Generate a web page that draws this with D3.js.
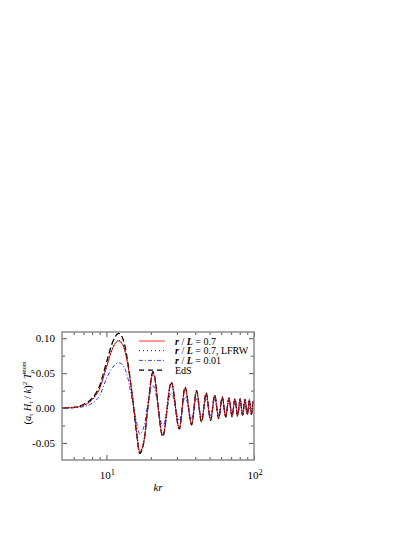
<!DOCTYPE html>
<html>
<head>
<meta charset="utf-8">
<script src="https://cdn.jsdelivr.net/npm/d3@7"></script>
<style>
  body { margin: 0; background: #fff; }
  svg { display: block; }
  text { font-family: "Liberation Serif", "DejaVu Serif", serif; fill: #000; }
</style>
</head>
<body>
<script>
// kr sample points (peaks, troughs and a few along the first rise)
const kr = [5, 6, 7, 8, 9, 10, 11, 12.1, 13, 14, 15, 16, 16.8, 18, 19, 20.7,
  24.1, 27.5, 31.2, 34.1, 37.8, 40.8, 44.1, 47.4, 50.8, 54.2, 57.6, 61.0, 64.3,
  67.7, 71.0, 74.3, 77.4, 80.6, 83.7, 86.9, 90.0, 93.1, 96.1, 99.2, 100]

// r/L = 0.7
const redVals = [0, 0.0008, 0.004, 0.012, 0.028, 0.058, 0.085, 0.096, 0.089, 0.060, 0.017, -0.033, -0.0625, -0.046, -0.003, 0.050,
  -0.039, 0.036, -0.029, 0.029, -0.023, 0.024, -0.019, 0.021, -0.017, 0.018, -0.0145, 0.0155, -0.0125,
  0.014, -0.012, 0.013, -0.011, 0.0125, -0.010, 0.012, -0.009, 0.011, -0.0088, 0.0105, 0.009]

// r/L = 0.7, LFRW
const lfrwVals = [0, 0.0008, 0.004, 0.012, 0.029, 0.059, 0.086, 0.097, 0.090, 0.061, 0.017, -0.034, -0.063, -0.046, -0.003, 0.050,
  -0.039, 0.036, -0.029, 0.029, -0.023, 0.024, -0.019, 0.021, -0.017, 0.018, -0.0145, 0.0155, -0.0125,
  0.014, -0.012, 0.013, -0.011, 0.0125, -0.010, 0.012, -0.009, 0.011, -0.0088, 0.0105, 0.009]

// r/L = 0.01
const blueVals = [0, 0.0005, 0.002, 0.007, 0.018, 0.042, 0.058, 0.065, 0.061, 0.042, 0.010, -0.020, -0.037, -0.026, 0.004, 0.032,
  -0.026, 0.022, -0.018, 0.016, -0.0145, 0.013, -0.012, 0.0125, -0.011, 0.012, -0.010, 0.0125, -0.0095,
  0.012, -0.009, 0.0115, -0.0085, 0.011, -0.008, 0.011, -0.0078, 0.0105, -0.0075, 0.010, 0.009]

// EdS
const edsVals = [0, 0.001, 0.005, 0.014, 0.032, 0.065, 0.094, 0.107, 0.098, 0.064, 0.016, -0.036, -0.065, -0.047, -0.002, 0.052,
  -0.041, 0.037, -0.030, 0.030, -0.024, 0.025, -0.020, 0.022, -0.0175, 0.0185, -0.015, 0.016, -0.013,
  0.0145, -0.0125, 0.0135, -0.0115, 0.013, -0.0105, 0.0125, -0.0095, 0.0115, -0.009, 0.011, 0.0095]

const legendLabels = ["0.7", "0.7, LFRW", "0.01", "EdS"]
const yMajor = [-0.05, 0, 0.05, 0.10]
const yMinor = [-0.025, 0.025, 0.075]
const xMajor = [10, 100]
const xMinor = [6, 7, 8, 9, 20, 30, 40, 50, 60, 70, 80, 90]

const W = 415, H = 537
const mLeft = 62, mRight = 254, mTop = 332, mBottom = 460

const svg = d3.select("body").append("svg").attr("width", W).attr("height", H)

const x = d3.scaleLog().domain([5, 100]).range([mLeft, mRight])
const y = d3.scaleLinear().domain([-0.0745, 0.109]).range([mBottom, mTop])

// clip
svg.append("clipPath").attr("id", "clip").append("rect")
  .attr("x", mLeft).attr("y", mTop).attr("width", mRight - mLeft).attr("height", mBottom - mTop)

const series = [
  { vals: edsVals, color: "#000", width: 1.3, dash: "6,3" },
  { vals: blueVals, color: "#2233ff", width: 1, dash: "4,2,1,2" },
  { vals: redVals, color: "#ff1a1a", width: 1, dash: null },
  { vals: lfrwVals, color: "#000", width: 1, dash: "1,2" }
]

const line = d3.line()
  .x(d => x(d[0]))
  .y(d => y(d[1]))
  .curve(d3.curveMonotoneX)

const g = svg.append("g").attr("clip-path", "url(#clip)")
series.forEach(s => {
  g.append("path")
    .datum(kr.map((k, i) => [k, s.vals[i]]))
    .attr("d", line)
    .attr("fill", "none")
    .attr("stroke", s.color)
    .attr("stroke-width", s.width)
    .attr("stroke-dasharray", s.dash)
})

// axes
function tickAxis(axis, tr, vals, size) {
  const a = svg.append("g").attr("transform", tr)
    .call(axis.tickValues(vals).tickSize(size).tickFormat(""))
  a.select(".domain").remove()
  a.selectAll("line").attr("stroke", "#555").attr("stroke-width", 1)
  return a
}
tickAxis(d3.axisLeft(y), `translate(${mLeft},0)`, yMajor, -5)
tickAxis(d3.axisLeft(y), `translate(${mLeft},0)`, yMinor, -3)
tickAxis(d3.axisRight(y), `translate(${mRight},0)`, yMajor, -5)
tickAxis(d3.axisRight(y), `translate(${mRight},0)`, yMinor, -3)
tickAxis(d3.axisBottom(x), `translate(0,${mBottom})`, xMajor, -5)
tickAxis(d3.axisBottom(x), `translate(0,${mBottom})`, xMinor, -3)
tickAxis(d3.axisTop(x), `translate(0,${mTop})`, xMajor, -5)
tickAxis(d3.axisTop(x), `translate(0,${mTop})`, xMinor, -3)

svg.append("rect")
  .attr("x", mLeft).attr("y", mTop).attr("width", mRight - mLeft).attr("height", mBottom - mTop)
  .attr("fill", "none").attr("stroke", "#8a8a8a").attr("stroke-width", 1.5)

// y tick labels
svg.append("g").selectAll("text").data(yMajor).join("text")
  .attr("x", mLeft - 7).attr("y", d => y(d) + 3.8)
  .attr("text-anchor", "end").attr("font-size", 11)
  .text(d => d3.format(".2f")(d).replace("\u2212", "-"))

// x tick labels 10^n
xMajor.forEach(v => {
  const t = svg.append("text").attr("x", x(v) + 1).attr("y", mBottom + 19)
    .attr("text-anchor", "middle").attr("font-size", 11)
  t.append("tspan").text("10")
  t.append("tspan").attr("dy", -4).attr("font-size", 8.5).text(Math.round(Math.log10(v)))
})

// x label
svg.append("text").attr("x", (mLeft + mRight) / 2).attr("y", mBottom + 31)
  .attr("text-anchor", "middle").attr("font-size", 11).attr("font-style", "italic")
  .text("kr")

// y label
const yl = svg.append("text")
  .attr("transform", `translate(31,${(mTop + mBottom) / 2 - 3}) rotate(-90)`)
  .attr("text-anchor", "middle").attr("font-size", 10.5)
yl.append("tspan").text("(")
yl.append("tspan").attr("font-style", "italic").text("a")
yl.append("tspan").attr("font-size", 7).attr("dy", 2).text("t")
yl.append("tspan").attr("font-style", "italic").attr("dy", -2).text(" H")
yl.append("tspan").attr("font-size", 7).attr("dy", 2).text("t")
yl.append("tspan").attr("dy", -2).text(" / ")
yl.append("tspan").attr("font-style", "italic").text("k")
yl.append("tspan").text(")")
yl.append("tspan").attr("font-size", 7).attr("dy", -4).text("2")
yl.append("tspan").attr("font-style", "italic").attr("dy", 4).text(" T")
yl.append("tspan").attr("font-size", 7).attr("font-style", "italic").attr("dy", 3).text("\u03c1")
yl.append("tspan").attr("font-size", 6).attr("dx", -4).attr("dy", -8).text("mom")

// legend
const legendOrder = [2, 3, 1, 0]
const legendDash = [null, "1,3", "4,2,1,2", "5,4"]
const lg = svg.append("g")
legendOrder.forEach((si, i) => {
  const s = series[si]
  const ly = 341 + i * 9.7
  lg.append("line")
    .attr("x1", 139).attr("x2", 165).attr("y1", ly).attr("y2", ly)
    .attr("stroke", s.color).attr("stroke-width", i === 3 ? 1.2 : 0.9)
    .attr("stroke-dasharray", legendDash[i])
  const t = lg.append("text").attr("x", 175).attr("y", ly + 3.5).attr("font-size", 10)
  if (i < 3) {
    t.append("tspan").attr("font-style", "italic").attr("font-weight", "bold").text("r")
    t.append("tspan").text(" / ")
    t.append("tspan").attr("font-style", "italic").attr("font-weight", "bold").text("L")
    t.append("tspan").text(" = " + legendLabels[i])
  } else {
    t.text(legendLabels[i])
  }
})
</script>
</body>
</html>
